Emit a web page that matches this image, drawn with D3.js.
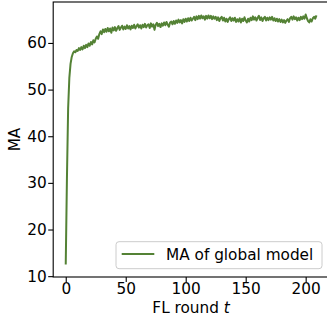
<!doctype html>
<head>
  <meta charset="utf-8">
  <script src="https://cdnjs.cloudflare.com/ajax/libs/d3/7.8.2/d3.min.js"></script>
</head>
<style>
    body { margin: 0; background: white; }
    svg { display: block; font-family: "DejaVu Sans", sans-serif; }
</style>
<body>
    <div id="chart"></div>
    <script>
        // MA of global model per FL round
        const rounds = d3.range(0, 210);
        const ma = [
            12.5, 31.0, 46.0, 52.5, 55.5, 57.0, 57.8, 58.2, 58.0, 58.5,
            58.3, 58.9, 58.5, 59.1, 58.6, 59.4, 58.9, 59.6, 59.1, 59.9,
            59.4, 60.2, 59.7, 60.6, 60.1, 60.9, 61.4, 60.9, 61.9, 62.5,
            61.9, 62.9, 62.3, 63.0, 62.4, 63.2, 62.5, 63.1, 62.2, 63.3,
            62.7, 63.4, 62.6, 63.2, 63.6, 62.8, 63.3, 63.7, 62.9, 63.5,
            63.0, 63.8, 63.1, 63.6, 62.9, 63.7, 63.2, 63.9, 63.1, 63.6,
            64.0, 63.3, 63.8, 63.1, 63.9, 63.4, 64.1, 63.3, 63.8, 64.0,
            63.2, 64.2, 63.5, 64.0, 62.8, 63.9, 64.3, 63.6, 64.1, 63.4,
            64.2, 63.7, 64.4, 63.8, 64.5, 63.9, 63.5, 64.4, 64.6, 64.0,
            64.7, 64.1, 64.8, 64.3, 65.0, 64.4, 64.9, 64.2, 65.1, 64.5,
            65.2, 64.6, 65.3, 64.7, 65.4, 64.8, 65.2, 65.6, 64.9, 65.7,
            65.1, 65.8, 65.2, 65.9, 65.3, 65.7, 65.0, 65.8, 65.2, 65.9,
            65.3, 65.8, 65.1, 65.7, 65.2, 65.6, 64.9, 65.5, 64.7, 65.3,
            65.6, 64.8, 65.4, 64.6, 65.2, 64.5, 65.1, 65.5, 64.7, 65.3,
            64.8, 65.4, 64.5, 65.1, 64.6, 65.3, 64.4, 65.2, 64.7, 65.5,
            64.8, 64.4, 65.2, 64.6, 65.4, 64.9, 65.7, 65.0, 65.5, 64.8,
            65.4, 65.8, 64.9, 65.5, 64.7, 65.3, 65.6, 64.8, 65.4, 64.9,
            65.5, 65.0, 65.6, 64.8, 65.3, 64.7, 65.2, 64.6, 65.1, 64.5,
            65.0, 64.4, 64.9, 64.3, 64.8, 65.1, 64.5, 65.3, 65.6, 65.0,
            65.7, 65.1, 65.5, 64.8, 65.4, 64.9, 65.6, 65.1, 65.7, 65.2,
            66.1, 65.3, 64.7, 64.4, 65.1, 64.6, 65.3, 65.6, 65.2, 65.9,
        ];
        const xTicks = [0, 50, 100, 150, 200];
        const yTicks = [10, 20, 30, 40, 50, 60];
        const seriesName = "MA of global model";

        const width = 327, height = 324;
        const plotLeft = 53.2, plotRight = 329, plotTop = 2, plotBottom = 277;
        const color = "#548235";
        const fontSize = 15.3;

        const data = rounds.map((t, i) => ({ t, v: ma[i] }));

        // matplotlib-like 5% margins
        const xExt = d3.extent(rounds);
        const xPad = (xExt[1] - xExt[0]) * 0.05;
        const yExt = d3.extent(ma);
        const yPad = (yExt[1] - yExt[0]) * 0.05;

        const x = d3.scaleLinear().domain([xExt[0] - xPad, xExt[1] + xPad]).range([plotLeft, plotRight]);
        const y = d3.scaleLinear().domain([yExt[0] - yPad, yExt[1] + yPad]).range([plotBottom, plotTop]);

        const svg = d3.select('#chart')
            .append('svg')
            .attr('width', width)
            .attr('height', height);

        // line
        svg.append('path')
            .datum(data)
            .attr('fill', 'none')
            .attr('stroke', color)
            .attr('stroke-width', 2)
            .attr('stroke-linejoin', 'round')
            .attr('d', d3.line().x(d => x(d.t)).y(d => y(d.v)));

        // axes
        const gx = svg.append('g')
            .attr('transform', `translate(0,${plotBottom})`)
            .call(d3.axisBottom(x).tickValues(xTicks).tickSize(5).tickPadding(1));
        const gy = svg.append('g')
            .attr('transform', `translate(${plotLeft},0)`)
            .call(d3.axisLeft(y).tickValues(yTicks).tickSize(5).tickPadding(1.5));

        [gx, gy].forEach(g => {
            g.selectAll('text').attr('font-size', fontSize).attr('font-family', '"DejaVu Sans", sans-serif').attr('fill', '#000');
            g.selectAll('line').attr('stroke', '#000').attr('stroke-width', 1.1);
            g.select('.domain').remove();
        });

        // spines
        svg.append('rect')
            .attr('x', plotLeft).attr('y', plotTop)
            .attr('width', plotRight - plotLeft).attr('height', plotBottom - plotTop)
            .attr('fill', 'none')
            .attr('stroke', '#000')
            .attr('stroke-width', 1.1);

        // axis labels
        const xl = svg.append('text')
            .attr('x', (plotLeft + plotRight) / 2)
            .attr('y', 313)
            .attr('text-anchor', 'middle')
            .attr('font-size', fontSize);
        xl.append('tspan').text('FL round ');
        xl.append('tspan').attr('font-style', 'italic').text('t');

        svg.append('text')
            .attr('transform', `translate(20,${(plotTop + plotBottom) / 2}) rotate(-90)`)
            .attr('text-anchor', 'middle')
            .attr('font-size', fontSize)
            .text('MA');

        // legend
        const lg = svg.append('g');
        lg.append('rect')
            .attr('x', 116).attr('y', 241.7)
            .attr('width', 206).attr('height', 27)
            .attr('rx', 3)
            .attr('fill', 'white').attr('fill-opacity', 0.8)
            .attr('stroke', '#cccccc').attr('stroke-width', 1);
        lg.append('line')
            .attr('x1', 121.7).attr('x2', 154.3)
            .attr('y1', 254).attr('y2', 254)
            .attr('stroke', color).attr('stroke-width', 2);
        lg.append('text')
            .attr('x', 166).attr('y', 260)
            .attr('font-size', fontSize)
            .text(seriesName);
    </script>
</body>
